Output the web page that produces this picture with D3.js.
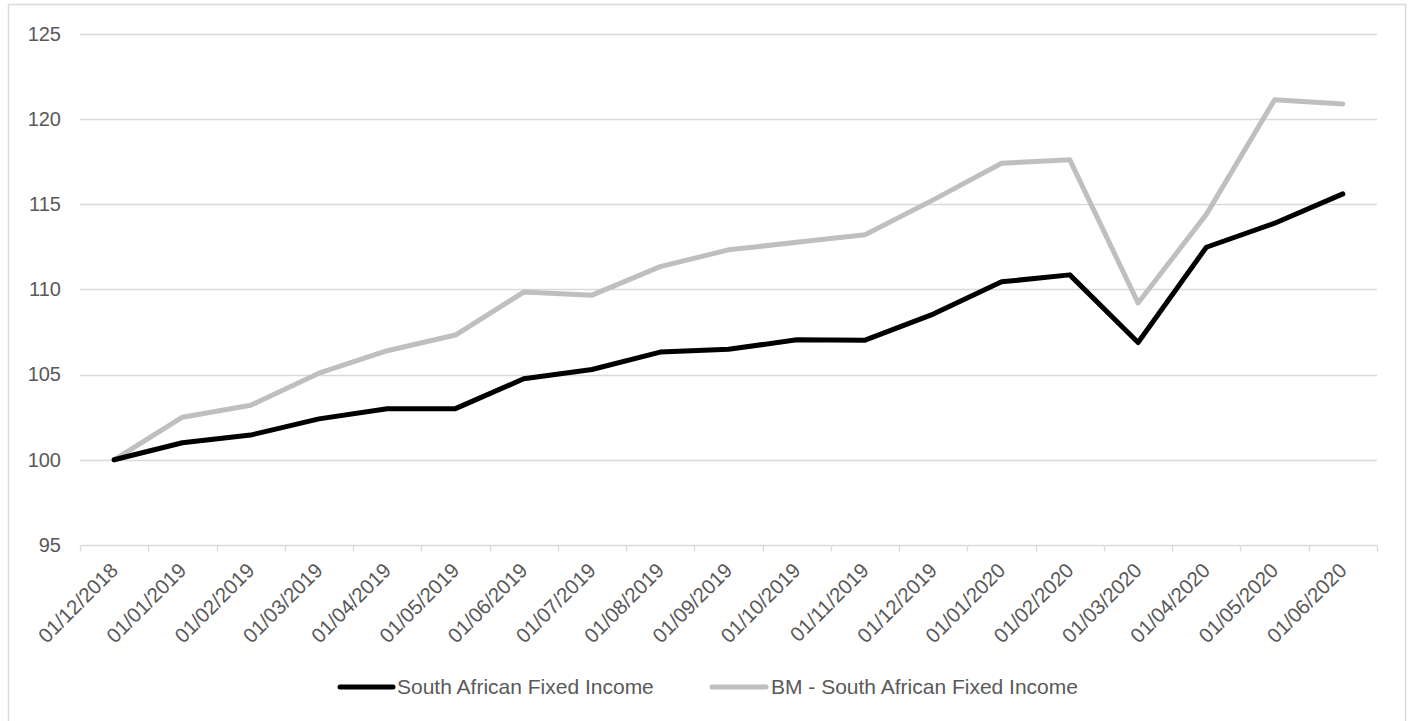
<!DOCTYPE html>
<html>
<head>
<meta charset="utf-8">
<script src="https://cdn.jsdelivr.net/npm/d3@7"></script>
<style>
  html, body { margin: 0; padding: 0; background: #fff; }
  svg { display: block; font-family: "Liberation Sans", Arial, sans-serif; }
</style>
</head>
<body>
<svg id="chart" width="1413" height="721"></svg>
<script>
// Month-start dates on the category axis
const dates = [
  "01/12/2018", "01/01/2019", "01/02/2019", "01/03/2019", "01/04/2019",
  "01/05/2019", "01/06/2019", "01/07/2019", "01/08/2019", "01/09/2019",
  "01/10/2019", "01/11/2019", "01/12/2019", "01/01/2020", "01/02/2020",
  "01/03/2020", "01/04/2020", "01/05/2020", "01/06/2020"
];

// Cumulative index values, base 100
const fundValues = [
  100, 101.0, 101.45, 102.4, 103.0, 103.0, 104.75, 105.3, 106.32, 106.48,
  107.04, 107.02, 108.55, 110.44, 110.85, 106.88, 112.47, 113.88, 115.6
];
const benchmarkValues = [
  100, 102.5, 103.2, 105.08, 106.4, 107.32, 109.84, 109.66, 111.33, 112.32,
  112.76, 113.2, 115.25, 117.4, 117.6, 109.2, 114.4, 121.12, 120.88
];

const yTicks = [95, 100, 105, 110, 115, 120, 125];

const seriesNames = ["South African Fixed Income", "BM - South African Fixed Income"];
const seriesColors = ["#000000", "#bfbfbf"];

const svg = d3.select("#chart");
const textColor = "#595959";
const gridColor = "#d9d9d9";

// Chart frame
svg.append("rect")
  .attr("x", 8.5).attr("y", 4.5)
  .attr("width", 1397).attr("height", 730)
  .attr("fill", "none").attr("stroke", gridColor).attr("stroke-width", 1.5);

const plot = { left: 80, right: 1377, top: 33.7, bottom: 545 };

const x = d3.scaleBand()
  .domain(dates)
  .range([plot.left, plot.right])
  .paddingInner(0).paddingOuter(0);

const y = d3.scaleLinear()
  .domain([95, 125])
  .range([plot.bottom, plot.top]);

// Horizontal gridlines
svg.append("g")
  .selectAll("line")
  .data(yTicks.filter(t => t !== 95))
  .join("line")
  .attr("x1", plot.left).attr("x2", plot.right)
  .attr("y1", d => Math.round(y(d)) + 0.5).attr("y2", d => Math.round(y(d)) + 0.5)
  .attr("stroke", gridColor).attr("stroke-width", 1.3);

// Y axis labels
const yAxis = d3.axisLeft(y).tickValues(yTicks).tickSize(0).tickPadding(19);
const yG = svg.append("g").attr("transform", `translate(${plot.left},0)`).call(yAxis);
yG.select(".domain").remove();
yG.selectAll("text")
  .attr("fill", textColor)
  .style("font-size", "20px");

// X axis with tick marks between categories
const xAxisY = Math.round(y(95)) + 0.5;
svg.append("line")
  .attr("x1", plot.left).attr("x2", plot.right)
  .attr("y1", xAxisY).attr("y2", xAxisY)
  .attr("stroke", gridColor).attr("stroke-width", 1.3);

const boundaries = dates.map(d => x(d)).concat([plot.right]);
svg.append("g")
  .selectAll("line")
  .data(boundaries)
  .join("line")
  .attr("x1", d => Math.round(d) + 0.5).attr("x2", d => Math.round(d) + 0.5)
  .attr("y1", xAxisY).attr("y2", xAxisY + 6)
  .attr("stroke", gridColor).attr("stroke-width", 1.3);

const cx = d => x(d) + x.bandwidth() / 2;

// Rotated category labels
svg.append("g")
  .selectAll("text")
  .data(dates)
  .join("text")
  .attr("transform", d => `translate(${cx(d)},${xAxisY + 21}) rotate(-45)`)
  .attr("text-anchor", "end")
  .attr("dy", "0.35em")
  .attr("fill", textColor)
  .style("font-size", "20.5px")
  .text(d => d);

// Series lines
const line = d3.line()
  .x((v, i) => cx(dates[i]))
  .y(v => y(v));

const seriesData = [fundValues, benchmarkValues];
// Draw benchmark first so the fund line sits on top
[1, 0].forEach(k => {
  svg.append("path")
    .datum(seriesData[k])
    .attr("d", line)
    .attr("fill", "none")
    .attr("stroke", seriesColors[k])
    .attr("stroke-width", 5)
    .attr("stroke-linejoin", "round")
    .attr("stroke-linecap", "round");
});

// Legend
const legendY = 687;
const legendItems = [
  { x1: 340, x2: 393, tx: 397 },
  { x1: 712, x2: 766, tx: 771 }
];
const legend = svg.append("g");
legendItems.forEach((it, k) => {
  legend.append("line")
    .attr("x1", it.x1).attr("x2", it.x2)
    .attr("y1", legendY).attr("y2", legendY)
    .attr("stroke", seriesColors[k])
    .attr("stroke-width", 5)
    .attr("stroke-linecap", "round");
  legend.append("text")
    .attr("x", it.tx).attr("y", legendY)
    .attr("dy", "0.35em")
    .attr("fill", textColor)
    .style("font-size", "21px")
    .text(seriesNames[k]);
});
</script>
</body>
</html>
